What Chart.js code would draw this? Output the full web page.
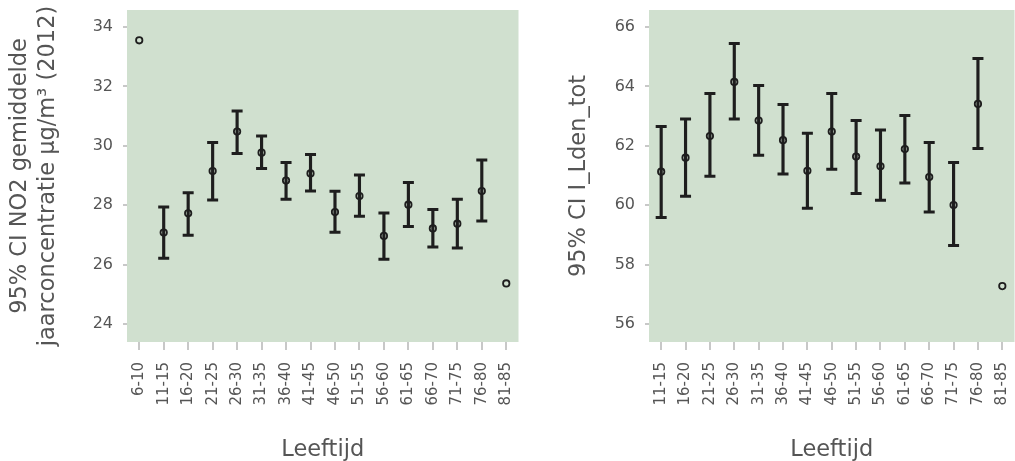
<!DOCTYPE html>
<html>
<head>
<meta charset="utf-8">
<script src="https://cdn.jsdelivr.net/npm/chart.js@4"></script>
<style>
  body { margin: 0; background: #fff; overflow: hidden; }
  #left { position: absolute; left: 0; top: 0; width: 527px; height: 461px; }
  #right { position: absolute; left: 560px; top: 0; width: 463px; height: 461px; }
</style>
</head>
<body>
<div id="left"><canvas id="c1"></canvas></div>
<div id="right"><canvas id="c2"></canvas></div>
<script>
// NO2 per age group (left)
const ages1 = ["6-10", "11-15", "16-20", "21-25", "26-30", "31-35", "36-40", "41-45",
               "46-50", "51-55", "56-60", "61-65", "66-70", "71-75", "76-80", "81-85"];
const no2Mean = [33.55, 27.08, 27.73, 29.15, 30.48, 29.77, 28.83, 29.07, 27.77, 28.31, 26.97, 28.02, 27.22, 27.38, 28.48, 25.37];
const no2Low  = [null, 26.22, 26.99, 28.18, 29.74, 29.24, 28.20, 28.48, 27.09, 27.63, 26.18, 27.29, 26.60, 26.56, 27.47, null];
const no2High = [null, 27.94, 28.42, 30.11, 31.17, 30.33, 29.44, 29.71, 28.47, 29.02, 27.74, 28.77, 27.86, 28.20, 29.52, null];

// Lden per age group (right)
const ages2 = ["11-15", "16-20", "21-25", "26-30", "31-35", "36-40", "41-45", "46-50",
               "51-55", "56-60", "61-65", "66-70", "71-75", "76-80", "81-85"];
const ldenMean = [61.13, 61.60, 62.33, 64.15, 62.85, 62.19, 61.16, 62.48, 61.64, 61.31, 61.89, 60.95, 60.01, 63.41, 57.28];
const ldenLow  = [59.59, 60.30, 60.98, 62.90, 61.68, 61.05, 59.90, 61.21, 60.40, 60.17, 60.75, 59.77, 58.65, 61.91, null];
const ldenHigh = [62.65, 62.90, 63.76, 65.44, 64.03, 63.39, 62.42, 63.76, 62.85, 62.53, 63.02, 62.11, 61.44, 64.94, null];

const FONT = "'DejaVu Sans', sans-serif";
const INK = '#1e1e1e';
const TXT = '#555555';
const TICK = '#c8c8c8';

const plotBg = {
  id: 'plotBg',
  beforeDraw(chart) {
    const { ctx, chartArea: a } = chart;
    ctx.save();
    ctx.fillStyle = '#d0e0cf';
    ctx.fillRect(a.left, a.top, a.right - a.left, a.bottom - a.top);
    ctx.restore();
  }
};

function makeChart(id, labels, mean, low, high, yMin, yMax, yTitle, axisWidth, titlePad) {
  const bars = low.map((l, i) => (l == null ? null : [l, high[i]]));
  new Chart(document.getElementById(id), {
    type: 'bar',
    data: {
      labels: labels,
      datasets: [
        { type: 'bar', data: bars, backgroundColor: INK, barThickness: 2.5, borderWidth: 0, order: 3 },
        { type: 'line', data: high, showLine: false, pointStyle: 'line', pointRadius: 5.5,
          borderColor: INK, pointBorderWidth: 3, order: 2 },
        { type: 'line', data: low, showLine: false, pointStyle: 'line', pointRadius: 5.5,
          borderColor: INK, pointBorderWidth: 3, order: 2 },
        { type: 'line', data: mean, showLine: false, pointStyle: 'circle', pointRadius: 3.2,
          borderColor: INK, backgroundColor: 'transparent', pointBorderWidth: 1.8, order: 1 }
      ]
    },
    options: {
      responsive: true,
      maintainAspectRatio: false,
      animation: false,
      layout: { padding: { top: 10, right: 0, bottom: 0, left: 0 } },
      plugins: { legend: { display: false }, tooltip: { enabled: false } },
      scales: {
        x: {
          offset: true,
          afterFit: s => { s.height = 119; s.paddingLeft = 0; s.paddingRight = 0; },
          border: { display: false },
          grid: { offset: false, drawOnChartArea: false, color: TICK, lineWidth: 2, tickLength: 8 },
          ticks: { color: TXT, font: { family: FONT, size: 15 }, maxRotation: 90, minRotation: 90,
                   padding: 12, autoSkip: false },
          title: { display: true, text: 'Leeftijd', color: TXT,
                   font: { family: FONT, size: 22.5, lineHeight: 1 }, padding: { top: 0, bottom: 0 } }
        },
        y: {
          min: yMin, max: yMax,
          afterFit: s => { s.width = axisWidth; s.paddingTop = 0; s.paddingBottom = 0; },
          border: { display: false },
          grid: { drawOnChartArea: false, color: TICK, lineWidth: 2, tickLength: 4 },
          ticks: { color: TXT, font: { family: FONT, size: 16 }, stepSize: 2, includeBounds: false, padding: 10 },
          title: { display: true, text: yTitle, color: TXT,
                   font: { family: FONT, size: 22.5, lineHeight: 1.25 }, padding: { top: titlePad, bottom: 0 } }
        }
      }
    },
    plugins: [plotBg]
  });
}

makeChart('c1', ages1, no2Mean, no2Low, no2High, 23.4, 34.57,
  ['95% CI NO2 gemiddelde', 'jaarconcentratie µg/m³ (2012)'], 127, 6);
makeChart('c2', ages2, ldenMean, ldenLow, ldenHigh, 55.4, 66.57,
  '95% CI I_Lden_tot', 89, 5);
</script>
</body>
</html>
